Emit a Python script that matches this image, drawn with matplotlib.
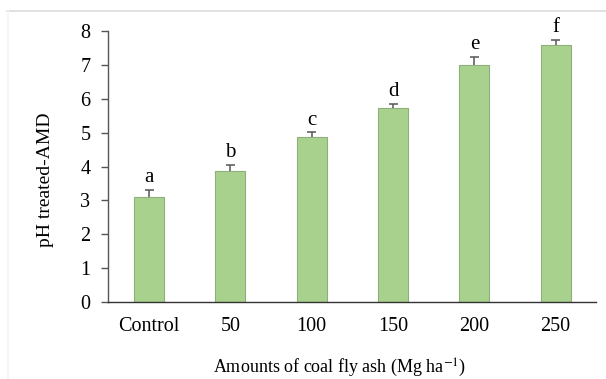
import numpy as np
import matplotlib.pyplot as plt
from matplotlib.lines import Line2D

plt.rcParams['font.family'] = ['Liberation Serif', 'DejaVu Serif']
plt.rcParams['mathtext.fontset'] = 'stix'

categories = ['Control', '50', '100', '150', '200', '250']
ph_values = [3.09, 3.86, 4.88, 5.73, 6.99, 7.58]
ph_errors = [0.23, 0.19, 0.13, 0.13, 0.24, 0.17]
letters = ['a', 'b', 'c', 'd', 'e', 'f']

fig = plt.figure(figsize=(6.06, 3.79), dpi=100)
ax = fig.add_axes([0.179, 0.203, 0.805, 0.715])

x = np.arange(len(categories))
vals = np.array(ph_values)
errs = np.array(ph_errors)
ax.bar(x, vals, width=0.37, color='#a9d18e', edgecolor='#8fae7c', linewidth=0.8, zorder=2)

# upper error bars only, like the original
ax.vlines(x, vals, vals + errs, color='#555555', linewidth=1.1, zorder=3)
ax.hlines(vals + errs, x - 0.055, x + 0.055, color='#555555', linewidth=1.1, zorder=3)

for i in range(len(categories)):
    ax.text(x[i], vals[i] + errs[i] + 0.08, letters[i],
            ha='center', va='bottom', fontsize=15)

ax.set_xlim(-0.5, len(categories) - 0.5)
ax.set_ylim(0, 8)
ax.set_yticks(range(0, 9))
ax.set_xticks(x)
ax.set_xticklabels(categories)
ax.tick_params(axis='y', direction='out', length=5, width=1, color='#555555', labelsize=14.5, pad=8)
ax.tick_params(axis='x', length=0, labelsize=14.5, pad=11)

for s in ['top', 'right']:
    ax.spines[s].set_visible(False)
ax.spines['left'].set_color('#555555')
ax.spines['bottom'].set_color('#333333')
ax.spines['left'].set_linewidth(1)
ax.spines['bottom'].set_linewidth(1)

fig.text(45 / 606, 1 - 180 / 379, 'pH treated-AMD', rotation=90,
         ha='center', va='center', fontsize=14)
fig.text(340 / 606, 1 - 368 / 379, r'Amounts of coal fly ash (Mg ha$^{-1}$)',
         ha='center', va='center', fontsize=13)

# faint frame of the original picture
fig.add_artist(Line2D([7 / 606, 1], [1 - 11 / 379, 1 - 11 / 379],
                      transform=fig.transFigure, color='#dcdcdc', linewidth=1.2))
fig.add_artist(Line2D([8 / 606, 8 / 606], [0, 1 - 11 / 379],
                      transform=fig.transFigure, color='#f3f3f3', linewidth=1.2))

fig.savefig('out.png', dpi=100)
